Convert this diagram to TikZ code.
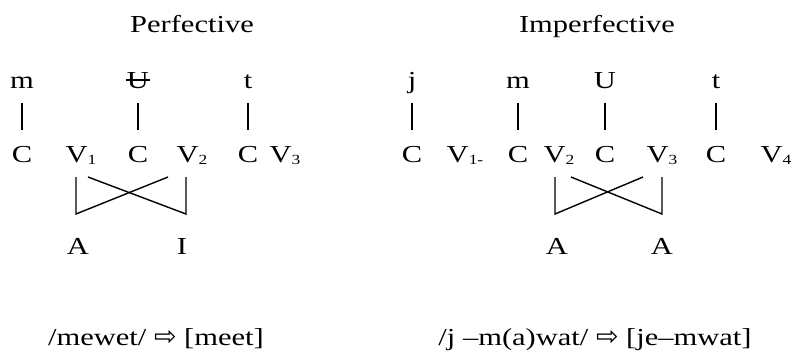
\documentclass[tikz,border=0pt]{standalone}
\usepackage{fontspec}
\setmainfont{Liberation Serif}[FakeStretch=1.25]
\newfontfamily\arrowfont{DejaVu Sans}
\usetikzlibrary{calc}

% lowered small index on a skeleton slot
\newcommand{\vsub}[1]{\raisebox{-2.5bp}{\fontsize{14}{16}\selectfont #1}}
\newcommand{\becomes}{{\arrowfont\fontsize{27}{28}\selectfont ⇨}}

\begin{document}
\begin{tikzpicture}[
    x=1bp, y=-1bp,
    font=\fontsize{24.5}{28}\selectfont,
    seg/.style={anchor=base, inner sep=0pt},
    assoc/.style={line width=1.4bp, shorten <=15bp, shorten >=32bp},
    link/.style={line width=1.4bp},
  ]
\useasboundingbox (0,0) rectangle (795,358);

% ============================ (a) perfective =============================
\begin{scope}

  % ---- heading and melody -----------------------------------------------
  \node[seg] (ptitle) at (192,32) {Perfective};
  \node[seg] (pm) at (22,88) {m};
  \node[seg] (pu) at (138,88) {U};
  \node[seg] (pt) at (248,88) {t};
  \draw[link] ([xshift=-1bp]pu.west) -- ([xshift=1bp]pu.east);   % deleted

  % ---- CV skeleton --------------------------------------------------------
  \node[seg] (pc1) at (22,162) {C};
  \node[seg] (pv1) at (81,162) {V\vsub{1}};
  \node[seg] (pc2) at (138,162) {C};
  \node[seg] (pv2) at (192,162) {V\vsub{2}};
  \node[seg] (pc3) at (248,162) {C};
  \node[seg] (pv3) at (285,162) {V\vsub{3}};

  \draw[assoc] (pm.base) -- (pc1.base);
  \draw[assoc] (pu.base) -- (pc2.base);
  \draw[assoc] (pt.base) -- (pc3.base);

  % ---- vowel melody, crossed association --------------------------------
  \node[seg] (pa) at (78,254) {A};
  \node[seg] (pi) at (182,254) {I};
  \coordinate (pl1) at (76,177);
  \coordinate (pl2) at (76,214);
  \coordinate (pl3) at (168,177);
  \coordinate (pr1) at (88,177);
  \coordinate (pr2) at (186,214);
  \coordinate (pr3) at (186,177);
  \draw[link] (pl1) -- (pl2) -- (pl3);
  \draw[link] (pr1) -- (pr2) -- (pr3);

  \node[seg] (pform) at (156,345) {/mewet/ \becomes\ [meet]};

\end{scope}

% ============================ (b) imperfective ===========================
\begin{scope}

  % ---- heading and melody -----------------------------------------------
  \node[seg] (ititle) at (597,32) {Imperfective};
  \node[seg] (ij) at (412,88) {j};
  \node[seg] (im) at (518,88) {m};
  \node[seg] (iu) at (605,88) {U};
  \node[seg] (it) at (716,88) {t};

  % ---- CV skeleton --------------------------------------------------------
  \node[seg] (ic1) at (412,162) {C};
  \node[seg] (iv1) at (465,162) {V\vsub{1-}};
  \node[seg] (ic2) at (518,162) {C};
  \node[seg] (iv2) at (559,162) {V\vsub{2}};
  \node[seg] (ic3) at (605,162) {C};
  \node[seg] (iv3) at (662,162) {V\vsub{3}};
  \node[seg] (ic4) at (716,162) {C};
  \node[seg] (iv4) at (776,162) {V\vsub{4}};

  \draw[assoc] (ij.base) -- (ic1.base);
  \draw[assoc] (im.base) -- (ic2.base);
  \draw[assoc] (iu.base) -- (ic3.base);
  \draw[assoc] (it.base) -- (ic4.base);

  % ---- vowel melody, crossed association --------------------------------
  \node[seg] (ia1) at (557,254) {A};
  \node[seg] (ia2) at (662,254) {A};
  \coordinate (il1) at (555,177);
  \coordinate (il2) at (555,214);
  \coordinate (il3) at (643,177);
  \coordinate (ir1) at (571,177);
  \coordinate (ir2) at (662,214);
  \coordinate (ir3) at (662,177);
  \draw[link] (il1) -- (il2) -- (il3);
  \draw[link] (ir1) -- (ir2) -- (ir3);

  \node[seg] (iform) at (595,345) {/j –m(a)wat/ \becomes\ [je–mwat]};

\end{scope}

\end{tikzpicture}
\end{document}
